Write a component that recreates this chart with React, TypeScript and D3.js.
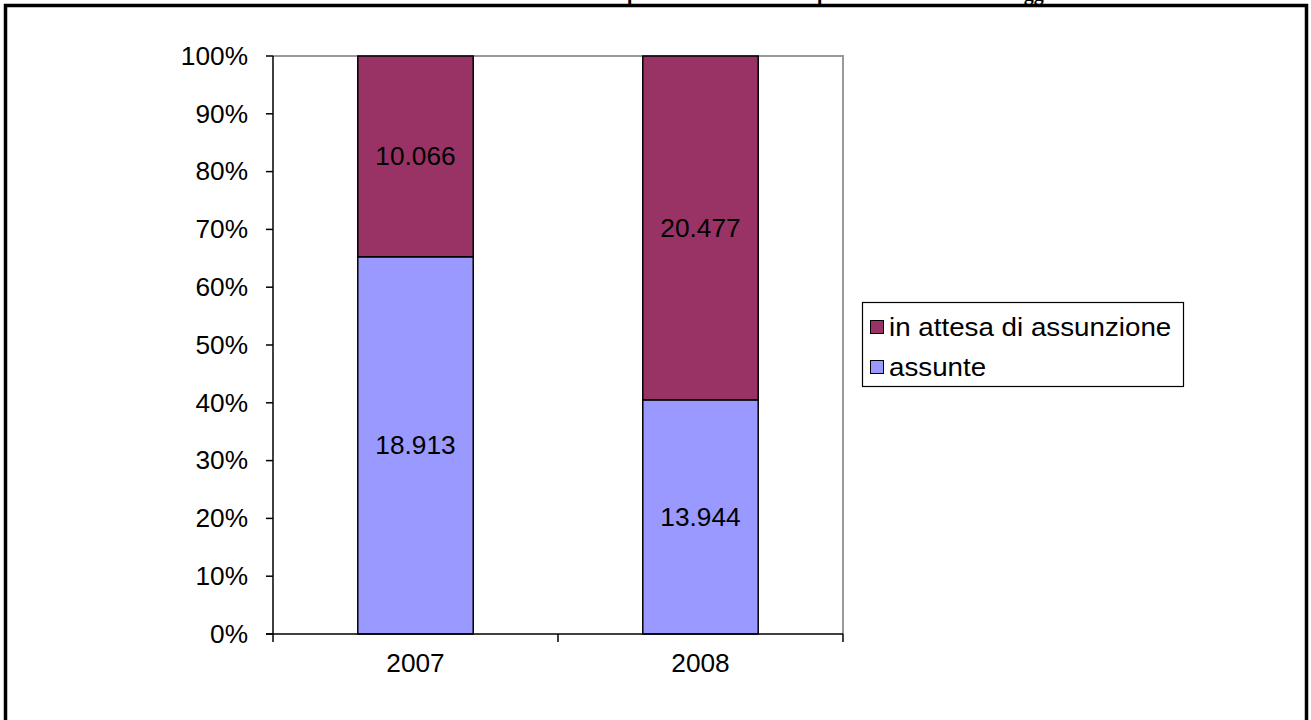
import * as React from 'react';
import * as d3 from 'd3';

// values
const years = ['2007', '2008'];
const assunte = [18913, 13944];
const inAttesa = [10066, 20477];
const seriesNames = ['assunte', 'in attesa di assunzione'];
const seriesColors = ['#9999ff', '#993366'];
const yTickValues = [0, 0.1, 0.2, 0.3, 0.4, 0.5, 0.6, 0.7, 0.8, 0.9, 1];

const width = 1311;
const height = 720;
const plot = { left: 273, top: 56, right: 843, bottom: 634 };
const fontFamily = '"Liberation Sans", Arial, sans-serif';

const itLocale = d3.formatLocale({ decimal: ',', thousands: '.', grouping: [3], currency: ['€', ''] });
const fmtValue = itLocale.format(',');
const fmtPct = d3.format('.0%');

function App() {
    const svgRef = React.useRef<SVGSVGElement | null>(null);

    React.useEffect(() => {
        const svg = d3.select(svgRef.current);
        svg.selectAll('*').remove();

        const rows = years.map((y, i) => ({ year: y, assunte: assunte[i], attesa: inAttesa[i] }));
        const stacked = d3.stack<any>()
            .keys(['assunte', 'attesa'])
            .offset(d3.stackOffsetExpand)(rows);

        const x = d3.scaleBand()
            .domain(years)
            .range([plot.left, plot.right])
            .paddingInner(0)
            .paddingOuter(0);
        const barW = x.bandwidth() * 0.405;

        const y = d3.scaleLinear()
            .domain([0, 1])
            .range([plot.bottom, plot.top]);

        // the source picture is a bit wider than tall, so text gets a horizontal stretch
        const text = (g: any, tx: number, ty: number, s: string, anchor: string, size = 25, stretch = 1.05) =>
            g.append('text')
                .attr('transform', `translate(${tx},${ty}) scale(${stretch},1)`)
                .attr('text-anchor', anchor)
                .attr('dominant-baseline', 'central')
                .style('font-family', fontFamily)
                .style('font-size', size + 'px')
                .style('fill', '#000')
                .text(s);

        // outer frame
        svg.append('rect')
            .attr('x', 5.5).attr('y', 5.5)
            .attr('width', 1301).attr('height', 760)
            .style('fill', 'none').style('stroke', '#000').style('stroke-width', 3.5);

        // plot area border (grey)
        svg.append('path')
            .attr('d', `M${plot.left},${y(1)}H${plot.right}V${plot.bottom}`)
            .style('fill', 'none').style('stroke', '#999').style('stroke-width', 2);

        // bars
        stacked.forEach((layer, si) => {
            svg.append('g').selectAll('rect')
                .data(layer)
                .enter()
                .append('rect')
                .attr('x', (d: any) => (x(d.data.year) as number) + (x.bandwidth() - barW) / 2)
                .attr('y', (d: any) => y(d[1]))
                .attr('width', barW)
                .attr('height', (d: any) => y(d[0]) - y(d[1]))
                .style('fill', seriesColors[si])
                .style('stroke', '#000')
                .style('stroke-width', 1.5);
        });

        // value labels
        const labels = svg.append('g');
        stacked.forEach((layer, si) => {
            const raw = si === 0 ? assunte : inAttesa;
            layer.forEach((d: any, i) => {
                const cx = (x(d.data.year) as number) + x.bandwidth() / 2;
                const cy = (y(d[0]) + y(d[1])) / 2;
                text(labels, cx, cy, fmtValue(raw[i]), 'middle');
            });
        });

        // y axis
        const yAxis = svg.append('g');
        yAxis.append('line')
            .attr('x1', plot.left).attr('x2', plot.left)
            .attr('y1', y(1)).attr('y2', y(0))
            .style('stroke', '#000').style('stroke-width', 1.5);
        yTickValues.forEach(v => {
            yAxis.append('line')
                .attr('x1', plot.left - 7).attr('x2', plot.left)
                .attr('y1', y(v)).attr('y2', y(v))
                .style('stroke', '#000').style('stroke-width', 1.5);
            text(yAxis, plot.left - 25, y(v), fmtPct(v), 'end');
        });

        // x axis
        const xAxis = svg.append('g');
        xAxis.append('line')
            .attr('x1', plot.left - 7).attr('x2', plot.right)
            .attr('y1', y(0)).attr('y2', y(0))
            .style('stroke', '#000').style('stroke-width', 1.5);
        [...years.map(yr => x(yr) as number), plot.right].forEach(tx => {
            xAxis.append('line')
                .attr('x1', tx).attr('x2', tx)
                .attr('y1', y(0)).attr('y2', y(0) + 8)
                .style('stroke', '#000').style('stroke-width', 1.5);
        });
        years.forEach(yr => {
            text(xAxis, (x(yr) as number) + x.bandwidth() / 2, y(0) + 29, yr, 'middle');
        });

        // legend
        const legend = svg.append('g');
        legend.append('rect')
            .attr('x', 862.5).attr('y', 302.5)
            .attr('width', 321).attr('height', 84)
            .style('fill', '#fff').style('stroke', '#000').style('stroke-width', 1.2);
        [1, 0].forEach((si, row) => {
            const cy = 327 + row * 40;
            legend.append('rect')
                .attr('x', 870.5).attr('y', cy - 6.5)
                .attr('width', 13).attr('height', 13)
                .style('fill', seriesColors[si])
                .style('stroke', '#000').style('stroke-width', 1);
            text(legend, 889, cy, seriesNames[si], 'start', 25, 1.11);
        });

        // title, mostly cut off by the top of the picture
        const title = svg.append('g')
            .style('font-family', '"Liberation Serif", "Times New Roman", serif')
            .style('font-weight', 'bold')
            .style('font-size', '20px');
        title.append('text').attr('x', 478).attr('y', 0).text('Graduatorie: ri');
        title.append('text').attr('x', 627).attr('y', 0).text('partizione delle');
        title.append('text').attr('x', 817).attr('y', 0).text('per stato di lavoro');
        title.append('text').attr('x', 997).attr('y', 0).text('maggio');
    }, []);

    return <svg
        ref={svgRef}
        width={width}
        height={height}
        style={{ position: 'absolute', left: 0, top: 0, background: '#fff' }}>
    </svg>;
}

export default App;
